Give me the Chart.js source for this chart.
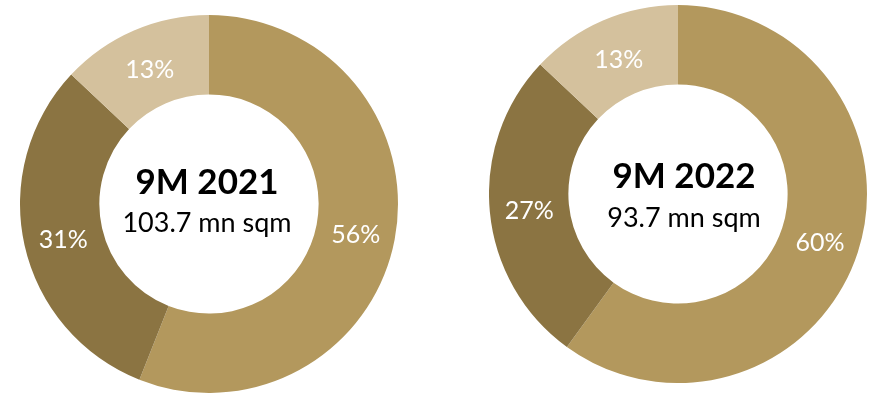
<!DOCTYPE html>
<html>
<head>
<meta charset="utf-8">
<script src="https://cdn.jsdelivr.net/npm/chart.js@4"></script>
<style>
  html, body { margin: 0; padding: 0; background: #ffffff; }
  body { width: 871px; height: 394px; position: relative; overflow: hidden; }
  .box { position: absolute; width: 378px; height: 378px; }
</style>
</head>
<body>
<div class="box" style="left:20px; top:15px;"><canvas id="c1"></canvas></div>
<div class="box" style="left:489px; top:5px;"><canvas id="c2"></canvas></div>
<script>
const categories = ["Segment A", "Segment B", "Segment C"];
const values2021 = [56, 31, 13];
const values2022 = [60, 27, 13];
const titles = ["9M 2021", "9M 2022"];
const subtitles = ["103.7 mn sqm", "93.7 mn sqm"];
const colors = ["#B3985D", "#8B7442", "#D4C19D"];

const FONT = "Lato, 'Open Sans', sans-serif";

const labelPlugin = {
  id: 'sliceLabels',
  afterDatasetsDraw(chart, args, opts) {
    const ctx = chart.ctx;
    const meta = chart.getDatasetMeta(0);
    const data = chart.data.datasets[0].data;
    ctx.save();
    ctx.fillStyle = '#ffffff';
    ctx.font = '25px ' + FONT;
    ctx.textAlign = 'center';
    ctx.textBaseline = 'middle';
    meta.data.forEach((arc, i) => {
      const p = arc.tooltipPosition();
      ctx.fillText(data[i] + '%', p.x, p.y + 3);
    });
    // center text
    const a = meta.data[0];
    const cx = a.x, cy = a.y;
    ctx.fillStyle = '#000000';
    ctx.font = 'bold 35px ' + FONT;
    ctx.fillText(opts.title, cx + opts.dx, cy + opts.dy1);
    ctx.font = '27px ' + FONT;
    ctx.fillText(opts.subtitle, cx + opts.dx, cy + opts.dy2);
    ctx.restore();
  }
};

function makeChart(id, values, title, subtitle, dx, dy1, dy2) {
  return new Chart(document.getElementById(id), {
    type: 'doughnut',
    data: {
      labels: categories,
      datasets: [{
        data: values,
        backgroundColor: colors,
        borderWidth: 0,
        hoverOffset: 0
      }]
    },
    options: {
      responsive: true,
      maintainAspectRatio: false,
      animation: false,
      cutout: '58%',
      layout: { padding: 0 },
      plugins: {
        legend: { display: false },
        tooltip: { enabled: false },
        sliceLabels: { title: title, subtitle: subtitle, dx: dx, dy1: dy1, dy2: dy2 }
      }
    },
    plugins: [labelPlugin]
  });
}

makeChart('c1', values2021, titles[0], subtitles[0], -2, -21, 19);
makeChart('c2', values2022, titles[1], subtitles[1], 6, -17, 24);
</script>
</body>
</html>
